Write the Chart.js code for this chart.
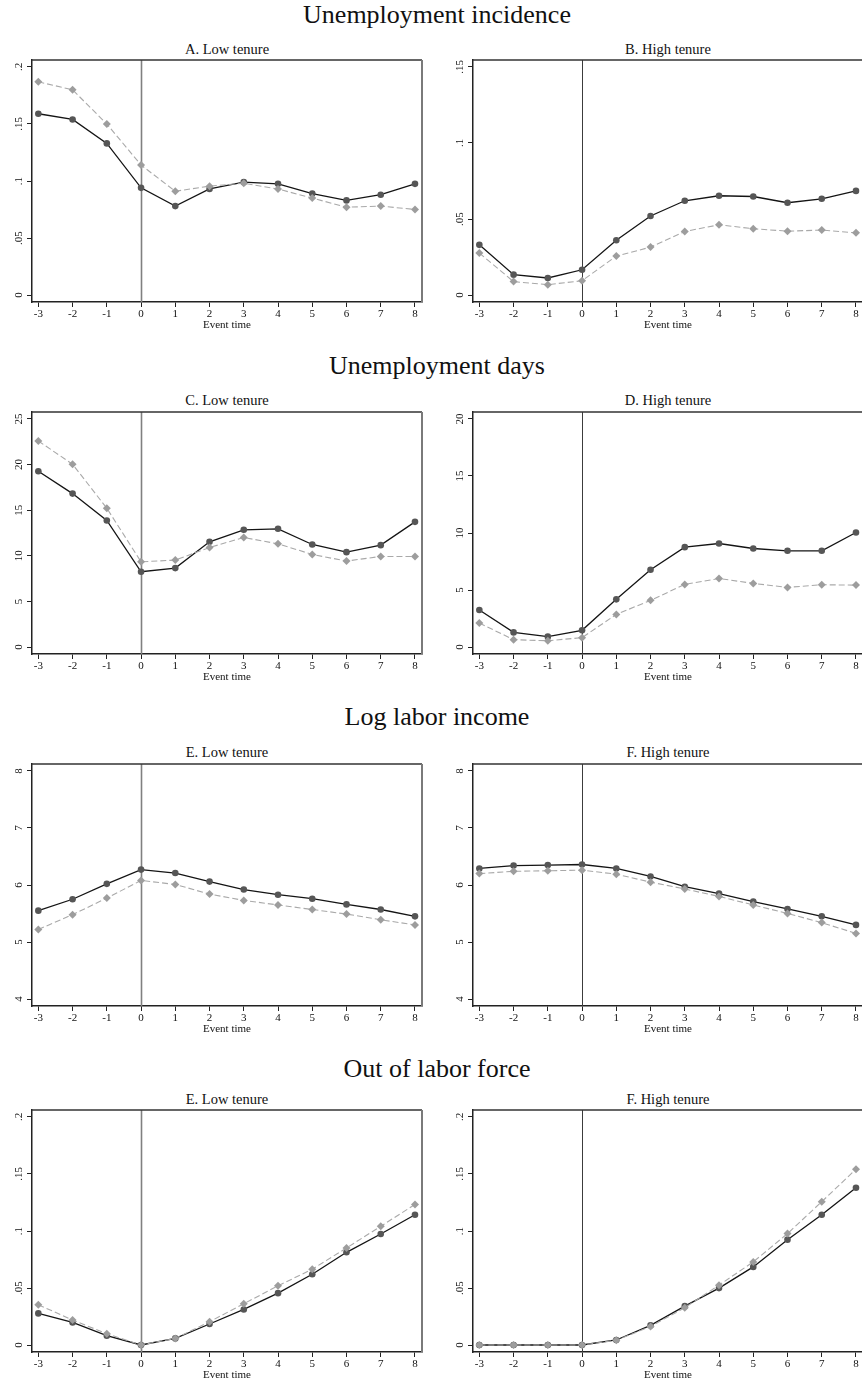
<!DOCTYPE html>
<html><head><meta charset="utf-8">
<script src="https://cdn.jsdelivr.net/npm/chart.js@4.4.1/dist/chart.umd.min.js"></script>
<style>
html,body{margin:0;padding:0;background:#fff;}
body{width:862px;height:1384px;overflow:hidden;position:relative;}
.sec{position:absolute;left:0;width:874px;text-align:center;font-family:"Liberation Serif",serif;font-size:26px;line-height:26px;color:#111;white-space:nowrap;}
.ptitle{position:absolute;width:390px;text-align:center;font-family:"Liberation Serif",serif;font-size:14.5px;line-height:14.5px;color:#111;white-space:nowrap;}
canvas{position:absolute;}
</style></head><body>
<script>
// ---------- DATA ----------
const eventTime = [-3, -2, -1, 0, 1, 2, 3, 4, 5, 6, 7, 8];
const xTickLabels = ['-3', '-2', '-1', '0', '1', '2', '3', '4', '5', '6', '7', '8'];

const sectionTitles = ['Unemployment incidence', 'Unemployment days', 'Log labor income', 'Out of labor force'];
const panelTitles = ['A. Low tenure', 'B. High tenure', 'C. Low tenure', 'D. High tenure',
                     'E. Low tenure', 'F. High tenure', 'E. Low tenure', 'F. High tenure'];

const incidenceLowSolid   = [0.159, 0.154, 0.133, 0.094, 0.078, 0.093, 0.099, 0.0975, 0.089, 0.083, 0.088, 0.0975];
const incidenceLowDashed  = [0.187, 0.180, 0.150, 0.114, 0.091, 0.0955, 0.098, 0.093, 0.085, 0.077, 0.078, 0.075];
const incidenceHighSolid  = [0.033, 0.0134, 0.0112, 0.0166, 0.036, 0.052, 0.062, 0.0653, 0.0648, 0.0607, 0.0633, 0.0685];
const incidenceHighDashed = [0.0276, 0.0088, 0.0068, 0.0094, 0.0256, 0.0315, 0.0418, 0.0462, 0.0436, 0.042, 0.0427, 0.0409];

const daysLowSolid   = [19.27, 16.82, 13.87, 8.25, 8.65, 11.53, 12.85, 12.96, 11.24, 10.40, 11.17, 13.72];
const daysLowDashed  = [22.59, 20.04, 15.22, 9.34, 9.53, 10.91, 12.01, 11.31, 10.15, 9.42, 9.93, 9.93];
const daysHighSolid  = [3.24, 1.28, 0.91, 1.46, 4.18, 6.77, 8.76, 9.08, 8.64, 8.44, 8.44, 10.04];
const daysHighDashed = [2.10, 0.64, 0.55, 0.82, 2.86, 4.09, 5.49, 6.01, 5.58, 5.23, 5.46, 5.43];

const incomeLowSolid   = [5.55, 5.75, 6.02, 6.27, 6.21, 6.06, 5.92, 5.83, 5.76, 5.66, 5.57, 5.45];
const incomeLowDashed  = [5.22, 5.48, 5.77, 6.08, 6.01, 5.84, 5.73, 5.65, 5.57, 5.49, 5.39, 5.30];
const incomeHighSolid  = [6.29, 6.34, 6.35, 6.36, 6.29, 6.15, 5.97, 5.85, 5.71, 5.58, 5.45, 5.30];
const incomeHighDashed = [6.20, 6.24, 6.25, 6.26, 6.19, 6.05, 5.93, 5.80, 5.65, 5.50, 5.34, 5.15];

const olfLowSolid   = [0.0277, 0.0198, 0.0082, 0, 0.0058, 0.0184, 0.0312, 0.0455, 0.0621, 0.0813, 0.0974, 0.1143];
const olfLowDashed  = [0.0353, 0.0219, 0.0099, 0, 0.0058, 0.0204, 0.0362, 0.0519, 0.0665, 0.0851, 0.1041, 0.1233];
const olfHighSolid  = [0, 0, 0, 0, 0.0044, 0.0172, 0.0341, 0.0499, 0.0685, 0.0924, 0.1143, 0.1379];
const olfHighDashed = [0, 0, 0, 0, 0.0041, 0.0163, 0.0327, 0.0525, 0.0729, 0.0977, 0.1257, 0.1542];

const yTicksProb20  = [0, 0.05, 0.1, 0.15, 0.2];
const yLabelsProb20 = ['0', '.05', '.1', '.15', '.2'];
const yTicksProb15  = [0, 0.05, 0.1, 0.15];
const yLabelsProb15 = ['0', '.05', '.1', '.15'];
const yTicksDays25  = [0, 5, 10, 15, 20, 25];
const yLabelsDays25 = ['0', '5', '10', '15', '20', '25'];
const yTicksDays20  = [0, 5, 10, 15, 20];
const yLabelsDays20 = ['0', '5', '10', '15', '20'];
const yTicksIncome  = [4, 5, 6, 7, 8];
const yLabelsIncome = ['4', '5', '6', '7', '8'];

// ---------- PANELS ----------
const panels = [
  {solid: incidenceLowSolid,  dashed: incidenceLowDashed,  yTicks: yTicksProb20, yLabels: yLabelsProb20},
  {solid: incidenceHighSolid, dashed: incidenceHighDashed, yTicks: yTicksProb15, yLabels: yLabelsProb15},
  {solid: daysLowSolid,       dashed: daysLowDashed,       yTicks: yTicksDays25, yLabels: yLabelsDays25},
  {solid: daysHighSolid,      dashed: daysHighDashed,      yTicks: yTicksDays20, yLabels: yLabelsDays20},
  {solid: incomeLowSolid,     dashed: incomeLowDashed,     yTicks: yTicksIncome, yLabels: yLabelsIncome},
  {solid: incomeHighSolid,    dashed: incomeHighDashed,    yTicks: yTicksIncome, yLabels: yLabelsIncome},
  {solid: olfLowSolid,        dashed: olfLowDashed,        yTicks: yTicksProb20, yLabels: yLabelsProb20},
  {solid: olfHighSolid,       dashed: olfHighDashed,       yTicks: yTicksProb20, yLabels: yLabelsProb20}
];

// ---------- LAYOUT ----------
const plotTops = [60, 412, 764, 1110];
const plotLefts = [32, 473];
const secBaselines = [24, 375, 726, 1078];
const titleBaselines = [54, 405, 756.7, 1104];
const PLOT_W = 390, PLOT_H = 242, YAX_W = 32, XAX_H = 32, PAD_T = 6, PAD_R = 8;
const FONT = '"Liberation Serif", serif';

const measureCtx = document.createElement('canvas').getContext('2d');
measureCtx.font = '11px ' + FONT;
function yLabelPadding(labels) {
  const w = Math.max(...labels.map(l => measureCtx.measureText(l).width));
  return Math.max(0, YAX_W - 5 - 18.8 - w / 2);
}

const framePlugin = {
  id: 'frame',
  beforeDatasetsDraw(chart, args, opts) {
    const {ctx, chartArea: a, scales: {x}} = chart;
    ctx.save();
    const px = Math.round(x.getPixelForValue(0)) + 0.5;
    ctx.strokeStyle = opts.vColor; ctx.lineWidth = opts.vWidth;
    ctx.beginPath(); ctx.moveTo(px, a.top); ctx.lineTo(px, a.bottom); ctx.stroke();
    ctx.strokeStyle = '#333'; ctx.lineWidth = 1.6;
    ctx.beginPath(); ctx.moveTo(a.left, a.top); ctx.lineTo(a.right, a.top); ctx.stroke();
    ctx.strokeStyle = '#7a7a7a'; ctx.lineWidth = 2;
    ctx.beginPath(); ctx.moveTo(a.right, a.top); ctx.lineTo(a.right, a.bottom); ctx.stroke();
    ctx.restore();
  }
};

sectionTitles.forEach((t, r) => {
  const d = document.createElement('div');
  d.className = 'sec'; d.textContent = t;
  d.style.top = (secBaselines[r] - 21.8) + 'px';
  document.body.appendChild(d);
});

const xmin = -3.185, xmax = 8.205;

panels.forEach((p, i) => {
  const row = Math.floor(i / 2), col = i % 2;
  const t = document.createElement('div');
  t.className = 'ptitle'; t.textContent = panelTitles[i];
  t.style.left = plotLefts[col] + 'px';
  t.style.top = (titleBaselines[row] - 12.1) + 'px';
  document.body.appendChild(t);

  const cv = document.createElement('canvas');
  cv.width = YAX_W + PLOT_W + PAD_R; cv.height = PAD_T + PLOT_H + XAX_H;
  cv.style.left = (plotLefts[col] - YAX_W) + 'px';
  cv.style.top = (plotTops[row] - PAD_T) + 'px';
  document.body.appendChild(cv);

  const lo = p.yTicks[0], hi = p.yTicks[p.yTicks.length - 1];
  const pad = 0.0307 * (hi - lo);
  const tickFont = {family: FONT, size: 11};

  new Chart(cv, {
    type: 'line',
    data: {
      datasets: [
        {
          data: eventTime.map((x, k) => ({x, y: p.dashed[k]})),
          borderColor: '#a9a9a9', borderWidth: 1.1, borderDash: [6, 3],
          pointStyle: 'rectRot', pointRadius: 4, pointBorderWidth: 0,
          pointBackgroundColor: '#9d9d9d', pointBorderColor: '#9d9d9d',
          tension: 0, fill: false, order: 0
        },
        {
          data: eventTime.map((x, k) => ({x, y: p.solid[k]})),
          borderColor: '#141414', borderWidth: 1.3,
          pointStyle: 'circle', pointRadius: 3.3, pointBorderWidth: 0,
          pointBackgroundColor: '#565656', pointBorderColor: '#565656',
          tension: 0, fill: false, order: 1
        }
      ]
    },
    options: {
      responsive: false, animation: false, devicePixelRatio: 1, events: [],
      layout: {padding: {top: PAD_T, right: PAD_R, left: 0, bottom: 0}},
      plugins: {
        legend: {display: false}, tooltip: {enabled: false}, title: {display: false},
        frame: {vColor: col === 0 ? '#808080' : '#3c3c3c', vWidth: col === 0 ? 1.6 : 1}
      },
      scales: {
        x: {
          type: 'linear', position: 'bottom', min: xmin, max: xmax,
          afterBuildTicks: s => { s.ticks = eventTime.map(v => ({value: v})); },
          afterFit: s => { s.height = XAX_H; s.paddingLeft = 0; s.paddingRight = 0; },
          ticks: {callback: (v, k) => xTickLabels[k], font: tickFont, color: '#111',
                  padding: 1, maxRotation: 0, minRotation: 0, autoSkip: false},
          grid: {drawOnChartArea: false, drawTicks: true, tickLength: 5, tickColor: '#222', tickWidth: 1},
          border: {display: true, color: '#222', width: 1.5},
          title: {display: true, text: 'Event time', font: {family: FONT, size: 11}, color: '#111',
                  padding: {top: 0, bottom: 2.7}}
        },
        y: {
          type: 'linear', position: 'left', min: lo - pad, max: hi + pad,
          afterBuildTicks: s => { s.ticks = p.yTicks.map(v => ({value: v})); },
          afterFit: s => { s.width = YAX_W; s.paddingTop = 0; s.paddingBottom = 0; },
          ticks: {callback: (v, k) => p.yLabels[k], font: tickFont, color: '#111',
                  minRotation: 90, maxRotation: 90, crossAlign: 'center',
                  padding: yLabelPadding(p.yLabels), autoSkip: false},
          grid: {drawOnChartArea: false, drawTicks: true, tickLength: 5, tickColor: '#222', tickWidth: 1},
          border: {display: true, color: '#222', width: 1.5}
        }
      }
    },
    plugins: [framePlugin]
  });
});
</script>
</body></html>
